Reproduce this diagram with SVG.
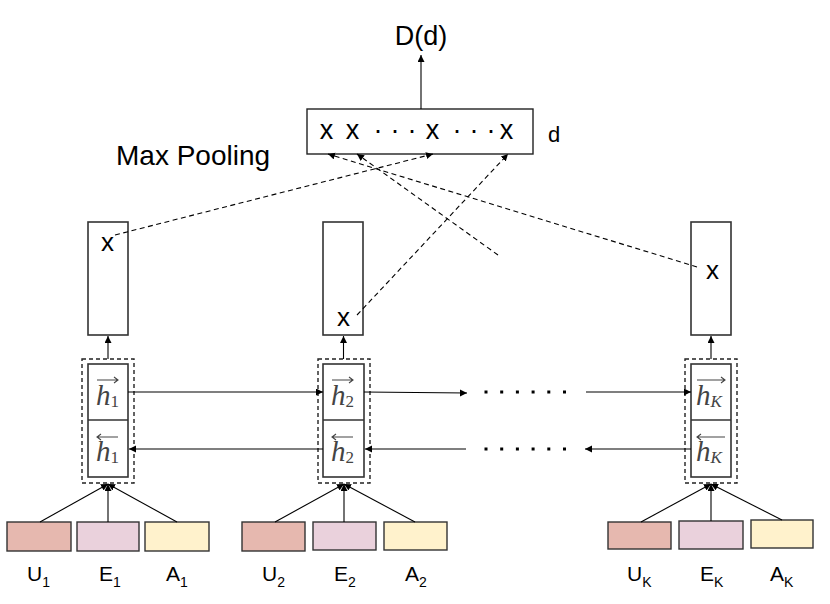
<svg xmlns="http://www.w3.org/2000/svg" width="830" height="604" viewBox="0 0 830 604">
<defs>
<marker id="ah" markerUnits="userSpaceOnUse" markerWidth="8" markerHeight="8" refX="7" refY="3.5" orient="auto">
<path d="M0,0 L7,3.5 L0,7 z" fill="#000"/>
</marker>
</defs>
<style>
.t{font-family:"Liberation Sans",Arial,sans-serif;fill:#000}
.box{fill:#fff;stroke:#222;stroke-width:1.4}
.cell{fill:#fff;stroke:#333;stroke-width:1.6}
.dash{fill:none;stroke:#222;stroke-width:1.4;stroke-dasharray:4 3}
.c{stroke:#000;stroke-width:1.1;fill:none}
.cd{stroke:#000;stroke-width:1.1;fill:none;stroke-dasharray:5 3.5}
.u{fill:#e6b8af;stroke:#333;stroke-width:1.4}
.e{fill:#ead1dc;stroke:#333;stroke-width:1.4}
.a{fill:#fff2cc;stroke:#333;stroke-width:1.4}
.h{font-family:"Liberation Serif","DejaVu Serif",serif;font-style:italic;fill:#444;font-size:29px}
.hs{font-size:17px;font-style:normal}
.hk{font-size:17px;font-style:italic}
.ov{stroke:#444;stroke-width:1.1;fill:none}
.dots{stroke:#000;stroke-width:3;stroke-dasharray:3 12.7;fill:none}
</style>

<g id="output">
<text class="t" x="421" y="45" font-size="27" text-anchor="middle">D(d)</text>
</g>

<g id="pool-vector">
<rect class="box" x="307" y="109" width="226" height="45"/>
<text class="t" font-size="27" text-anchor="middle"><tspan x="326.5" y="139">x</tspan><tspan x="352.5" y="139">x</tspan><tspan x="432.5" y="139">x</tspan><tspan x="506.5" y="139">x</tspan></text>
<text class="t" font-size="27" text-anchor="middle"><tspan x="378" y="139">·</tspan><tspan x="395" y="139">·</tspan><tspan x="412" y="139">·</tspan><tspan x="457" y="139">·</tspan><tspan x="474" y="139">·</tspan><tspan x="491" y="139">·</tspan></text>
<text class="t" x="548" y="142" font-size="22">d</text>
</g>

<g id="maxpool-label">
<text class="t" x="116" y="165" font-size="28">Max Pooling</text>
</g>

<g id="col1-out">
<rect class="cell" x="88" y="222" width="40" height="113"/>
<text class="t" x="107.5" y="251" font-size="26" text-anchor="middle">x</text>
</g>
<g id="col2-out">
<rect class="cell" x="323" y="222" width="40" height="113"/>
<text class="t" x="343.5" y="326" font-size="26" text-anchor="middle">x</text>
</g>
<g id="colK-out">
<rect class="cell" x="691" y="222" width="40" height="113"/>
<text class="t" x="712.5" y="279" font-size="26" text-anchor="middle">x</text>
</g>

<g id="col1-rnn">
<rect class="dash" x="82" y="359" width="52" height="124"/>
<rect class="cell" x="88" y="364" width="40" height="113"/>
<line class="cell" x1="88" y1="420" x2="128" y2="420"/>
<text class="h" x="96" y="405">h<tspan class="hs" dy="2">1</tspan></text>
<path class="ov" d="M97,380 H118 M114,377 L118,380 L114,383"/>
<text class="h" x="96" y="461">h<tspan class="hs" dy="2">1</tspan></text>
<path class="ov" d="M97,437 H118 M101,434 L97,437 L101,440"/>
</g>
<g id="col2-rnn">
<rect class="dash" x="318" y="359" width="52" height="124"/>
<rect class="cell" x="323" y="364" width="41" height="113"/>
<line class="cell" x1="323" y1="420" x2="364" y2="420"/>
<text class="h" x="331" y="405">h<tspan class="hs" dy="2">2</tspan></text>
<path class="ov" d="M332,380 H353 M349,377 L353,380 L349,383"/>
<text class="h" x="331" y="461">h<tspan class="hs" dy="2">2</tspan></text>
<path class="ov" d="M332,437 H353 M336,434 L332,437 L336,440"/>
</g>
<g id="colK-rnn">
<rect class="dash" x="685" y="359" width="52" height="124"/>
<rect class="cell" x="691" y="364" width="40" height="113"/>
<line class="cell" x1="691" y1="420" x2="731" y2="420"/>
<text class="h" x="696" y="405">h<tspan class="hk" dy="2">K</tspan></text>
<path class="ov" d="M697,380 H725 M721,377 L725,380 L721,383"/>
<text class="h" x="696" y="461">h<tspan class="hk" dy="2">K</tspan></text>
<path class="ov" d="M697,437 H725 M701,434 L697,437 L701,440"/>
</g>

<g id="inputs1">
<rect class="u" x="7" y="522" width="64" height="29"/>
<rect class="e" x="77" y="522" width="62" height="29"/>
<rect class="a" x="145" y="522" width="64" height="29"/>
<text class="t" font-size="21" x="27" y="581">U<tspan font-size="14" dy="6">1</tspan></text>
<text class="t" font-size="21" x="99" y="581">E<tspan font-size="14" dy="6">1</tspan></text>
<text class="t" font-size="21" x="166" y="581">A<tspan font-size="14" dy="6">1</tspan></text>
</g>
<g id="inputs2">
<rect class="u" x="242" y="522" width="63" height="29"/>
<rect class="e" x="313" y="522" width="63" height="28"/>
<rect class="a" x="384" y="522" width="63" height="28"/>
<text class="t" font-size="21" x="262" y="581">U<tspan font-size="14" dy="6">2</tspan></text>
<text class="t" font-size="21" x="334" y="581">E<tspan font-size="14" dy="6">2</tspan></text>
<text class="t" font-size="21" x="405" y="581">A<tspan font-size="14" dy="6">2</tspan></text>
</g>
<g id="inputsK">
<rect class="u" x="608" y="522" width="63" height="27"/>
<rect class="e" x="679" y="521" width="64" height="28"/>
<rect class="a" x="751" y="520" width="62" height="28"/>
<text class="t" font-size="21" x="627" y="581">U<tspan font-size="14" dy="6">K</tspan></text>
<text class="t" font-size="21" x="700" y="581">E<tspan font-size="14" dy="6">K</tspan></text>
<text class="t" font-size="21" x="770" y="581">A<tspan font-size="14" dy="6">K</tspan></text>
</g>

<g id="connectors">
<line class="c" x1="421" y1="109" x2="421" y2="55" marker-end="url(#ah)"/>
<line class="cd" x1="115" y1="235" x2="433" y2="154" marker-end="url(#ah)"/>
<line class="cd" x1="498" y1="255" x2="357" y2="154" marker-end="url(#ah)"/>
<line class="cd" x1="697" y1="267" x2="328" y2="154" marker-end="url(#ah)"/>
<line class="cd" x1="357" y1="315" x2="508" y2="154" marker-end="url(#ah)"/>
<line class="c" x1="108" y1="359" x2="108" y2="336" marker-end="url(#ah)"/>
<line class="c" x1="343.5" y1="359" x2="343.5" y2="336" marker-end="url(#ah)"/>
<line class="c" x1="711" y1="359" x2="711" y2="336" marker-end="url(#ah)"/>
<line class="c" x1="40" y1="522" x2="108" y2="484" marker-end="url(#ah)"/>
<line class="c" x1="108" y1="522" x2="108" y2="484" marker-end="url(#ah)"/>
<line class="c" x1="177" y1="522" x2="108" y2="484" marker-end="url(#ah)"/>
<line class="c" x1="275" y1="522" x2="344" y2="484" marker-end="url(#ah)"/>
<line class="c" x1="344" y1="522" x2="344" y2="484" marker-end="url(#ah)"/>
<line class="c" x1="415" y1="522" x2="344" y2="484" marker-end="url(#ah)"/>
<line class="c" x1="641" y1="522" x2="711" y2="484" marker-end="url(#ah)"/>
<line class="c" x1="711" y1="521" x2="711" y2="484" marker-end="url(#ah)"/>
<line class="c" x1="782" y1="520" x2="711" y2="484" marker-end="url(#ah)"/>
<line class="c" x1="128" y1="392" x2="323" y2="392" marker-end="url(#ah)"/>
<line class="c" x1="323" y1="449" x2="129" y2="449" marker-end="url(#ah)"/>
<line class="c" x1="364" y1="392" x2="467" y2="393" marker-end="url(#ah)"/>
<line class="c" x1="466" y1="449" x2="365" y2="449" marker-end="url(#ah)"/>
<line class="c" x1="586" y1="392" x2="691" y2="392" marker-end="url(#ah)"/>
<line class="c" x1="691" y1="449" x2="585" y2="449" marker-end="url(#ah)"/>
<line class="dots" x1="484.5" y1="392" x2="570" y2="392"/>
<line class="dots" x1="484.5" y1="449" x2="570" y2="449"/>
</g>
</svg>
